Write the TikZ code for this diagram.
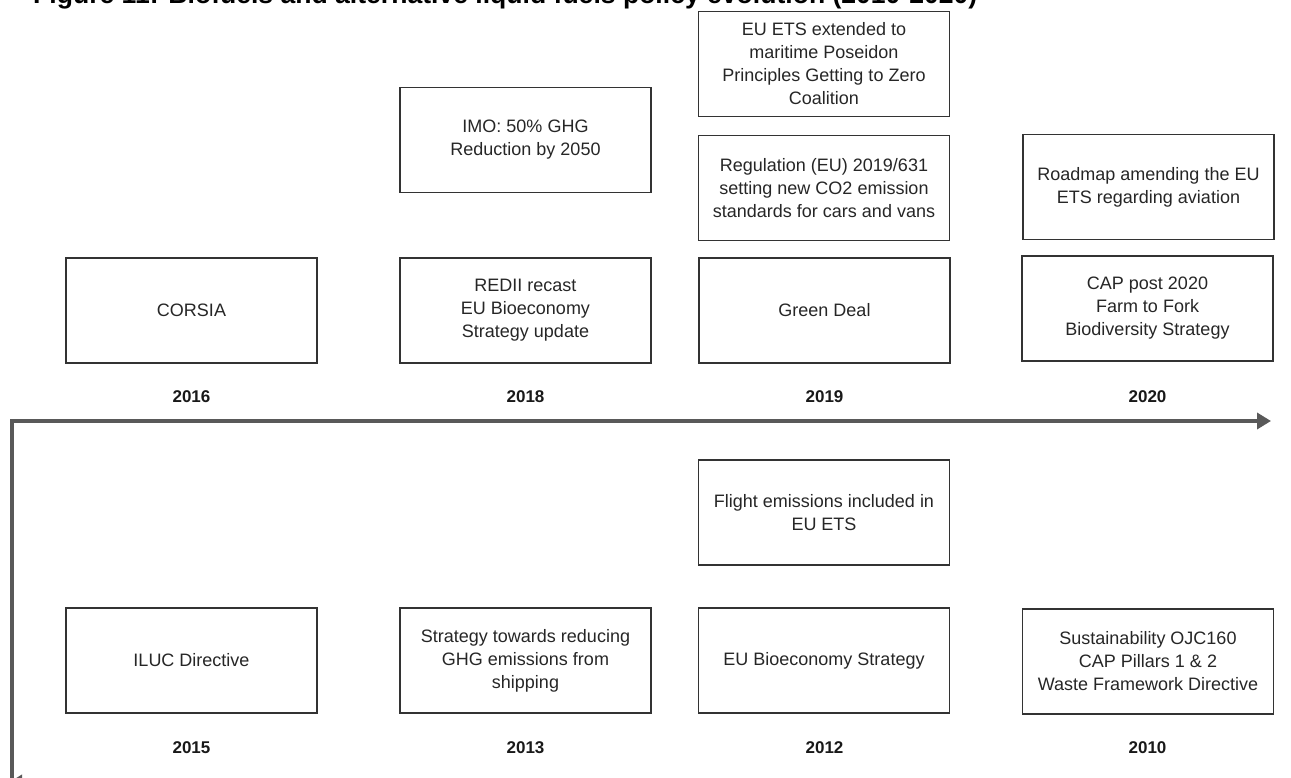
\documentclass[tikz,border=0pt]{standalone}
\usepackage{graphicx}
\usepackage{fontspec}
\setmainfont{Liberation Sans}
\usetikzlibrary{arrows.meta}
\begin{document}
\begin{tikzpicture}[x=1pt,y=-1pt,
  pbox/.style={draw=black!80, line width=1.8pt, align=center,
    font=\fontsize{18}{23}\selectfont, text=black!85, inner sep=0pt,
    minimum width=251pt, minimum height=105pt},
  yearlbl/.style={font=\fontsize{17}{20}\selectfont\bfseries, text=black!90, inner sep=0pt},
  axisline/.style={draw=black!65, line width=4.5pt},
  axtip/.style={-{Triangle[length=14pt,width=16pt]}}]
\useasboundingbox (0,0) rectangle (1291,778);
\clip (0,0) rectangle (1291,778);

% title (cut off at the top)
\node[anchor=base west, inner sep=0pt] (title) at (33,4)
  {\resizebox{944pt}{!}{\bfseries Figure 11: Biofuels and alternative liquid fuels policy evolution (2010-2020)}};

% timeline axis
\coordinate (axB) at (12,800);
\coordinate (axL) at (12,421);
\coordinate (axR) at (1271,421);
\draw[axisline, axtip] (axB) -- (axL) -- (axR);
\coordinate (bR) at (40,783);
\coordinate (bL) at (8,783);
\draw[axisline, axtip] (bR) -- (bL);

% upper rows
\node[pbox] (imo) at (525.5,140) {IMO: 50\% GHG\\Reduction by 2050};
\node[pbox] (ets) at (824,64) {EU ETS extended to\\maritime Poseidon\\Principles Getting to Zero\\Coalition};
\node[pbox] (reg) at (824,188) {Regulation (EU) 2019/631\\setting new CO2 emission\\standards for cars and vans};
\node[pbox] (road) at (1148.5,187) {Roadmap amending the EU\\ETS regarding aviation};

\node[pbox] (corsia) at (191.5,310.5) {CORSIA};
\node[pbox] (redii) at (525.5,310.5) {REDII recast\\EU Bioeconomy\\Strategy update};
\node[pbox] (green) at (824.5,310.5) {Green Deal};
\node[pbox] (cap) at (1147.5,308.5) {CAP post 2020\\Farm to Fork\\Biodiversity Strategy};

\node[yearlbl] (y2016) at (191.5,397) {2016};
\node[yearlbl] (y2018) at (525.5,397) {2018};
\node[yearlbl] (y2019) at (824.5,397) {2019};
\node[yearlbl] (y2020) at (1147.5,397) {2020};

% lower rows
\node[pbox] (flight) at (824,512.5) {Flight emissions included in\\EU ETS};

\node[pbox] (iluc) at (191.5,660.5) {ILUC Directive};
\node[pbox] (strat) at (525.5,660.5) {Strategy towards reducing\\GHG emissions from\\shipping};
\node[pbox] (bio) at (824,660.5) {EU Bioeconomy Strategy};
\node[pbox] (sust) at (1148,661.5) {Sustainability OJC160\\CAP Pillars 1 \& 2\\Waste Framework Directive};

\node[yearlbl] (y2015) at (191.5,748) {2015};
\node[yearlbl] (y2013) at (525.5,748) {2013};
\node[yearlbl] (y2012) at (824.5,748) {2012};
\node[yearlbl] (y2010) at (1147.5,748) {2010};
\end{tikzpicture}
\end{document}
